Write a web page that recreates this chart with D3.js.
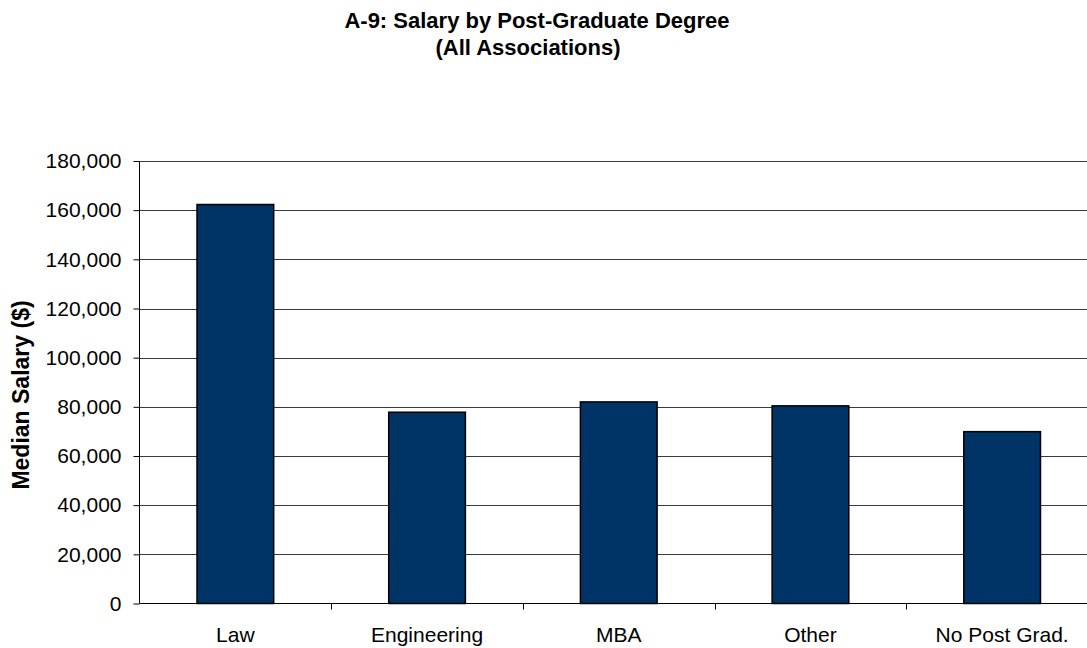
<!DOCTYPE html>
<html><head><meta charset="utf-8">
<script src="https://cdn.jsdelivr.net/npm/d3@7"></script>
<style>body{margin:0;background:#fff}svg{display:block}</style>
</head><body>
<script>
const categories = ["Law", "Engineering", "MBA", "Other", "No Post Grad."];
const values = [162300, 77800, 82000, 80400, 69900];
const yTicks = [0, 20000, 40000, 60000, 80000, 100000, 120000, 140000, 160000, 180000];
const titleLines = ["A-9: Salary by Post-Graduate Degree", "(All Associations)"];
const yLabel = "Median Salary ($)";

const W = 1087, H = 648;
const m = {left: 139.5, right: 1098, top: 161, bottom: 603.5};
const svg = d3.select("body").append("svg").attr("width", W).attr("height", H);
const font = "'Liberation Sans', Arial, sans-serif";

const x = d3.scaleBand().domain(categories).range([m.left, m.right]).padding(0);
const y = d3.scaleLinear().domain([0, 180000]).range([m.bottom, m.top]);

// gridlines
svg.append("g").selectAll("line").data(yTicks.filter(d => d > 0)).join("line")
  .attr("x1", m.left).attr("x2", m.right)
  .attr("y1", d => Math.round(y(d)) + 0.5).attr("y2", d => Math.round(y(d)) + 0.5)
  .attr("stroke", "#3a3a3a").attr("stroke-width", 1);

// bars
const bw = x.bandwidth() * 0.4;
svg.append("g").selectAll("rect").data(values).join("rect")
  .attr("x", (d, i) => x(categories[i]) + (x.bandwidth() - bw) / 2)
  .attr("y", d => y(d))
  .attr("width", bw)
  .attr("height", d => y(0) - y(d))
  .attr("fill", "#003366").attr("stroke", "#000").attr("stroke-width", 1.5);

// y axis
const ya = svg.append("g").attr("transform", `translate(${m.left},0)`)
  .call(d3.axisLeft(y).tickValues(yTicks).tickSize(6).tickPadding(12).tickFormat(d3.format(",")));
ya.select(".domain").attr("stroke", "#000").attr("d", `M0,${m.top}V${m.bottom}`);
ya.selectAll(".tick line").attr("stroke", "#000");
ya.selectAll("text").attr("font-family", font).attr("font-size", 21).attr("fill", "#000");

// x axis
const xa = svg.append("g").attr("transform", `translate(0,${m.bottom})`)
  .call(d3.axisBottom(x).tickSize(0).tickPadding(0));
xa.select(".domain").attr("stroke", "#000").attr("d", `M${m.left},0H${m.right}`);
xa.selectAll("text").attr("font-family", font).attr("font-size", 21).attr("fill", "#000")
  .attr("dy", 0).attr("y", 38);
// category separator ticks
svg.append("g").selectAll("line").data(categories.slice(1)).join("line")
  .attr("x1", d => Math.round(x(d)) + 0.5).attr("x2", d => Math.round(x(d)) + 0.5)
  .attr("y1", m.bottom).attr("y2", m.bottom + 6).attr("stroke", "#000");

// title
const titleX = [537, 528];
svg.append("g").selectAll("text").data(titleLines).join("text")
  .attr("x", (d, i) => titleX[i]).attr("y", (d, i) => 27.5 + i * 27)
  .attr("text-anchor", "middle").attr("font-family", font)
  .attr("font-size", 22).attr("font-weight", "bold").text(d => d);

// y label
svg.append("text")
  .attr("transform", `translate(29,395) rotate(-90)`)
  .attr("text-anchor", "middle").attr("font-family", font)
  .attr("font-size", 23).attr("font-weight", "bold").text(yLabel);
</script>
</body></html>
